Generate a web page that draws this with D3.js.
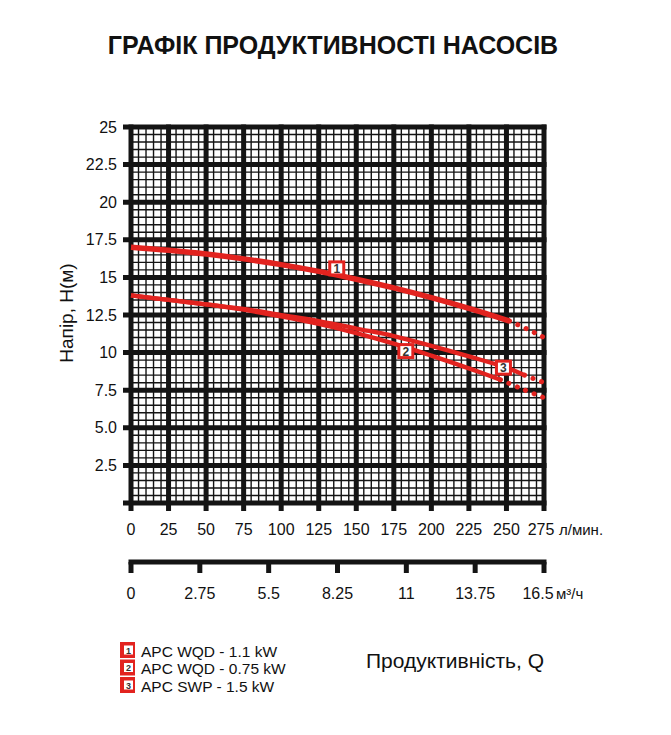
<!doctype html>
<html>
<head>
<meta charset="utf-8"/>
<title>Графік продуктивності насосів</title>
<script src="https://d3js.org/d3.v7.min.js"></script>
<style>
body { margin:0; background:#fff; }
text { font-family: "Liberation Sans", Arial, sans-serif; fill:#111; }
</style>
</head>
<body>
<script type="text/javascript">
// --- data ---
var flowTicks = [0,25,50,75,100,125,150,175,200,225,250,275];          // л/мин
var headTicks = [2.5,5,7.5,10,12.5,15,17.5,20,22.5,25];                // м
var headLabels = ["2.5","5.0","7.5","10","12.5","15","17.5","20","22.5","25"];
var m3hTicks = [0,2.75,5.5,8.25,11,13.75,16.5];                        // м³/ч
var m3hLabels = ["0","2.75","5.5","8.25","11","13.75","16.5"];

// curve 1: APC WQD - 1.1 kW
var c1Q = [0,25,50,75,100,125,150,175,200,225,252];
var c1H = [17.0,16.8,16.55,16.23,15.85,15.4,14.88,14.3,13.65,12.94,12.1];
var c1TailQ = [252,263,275];
var c1TailH = [12.1,11.6,11.0];
// curve 2: APC WQD - 0.75 kW
var c2Q = [0,25,50,75,100,125,150,175,200,225,246];
var c2H = [13.8,13.5,13.2,12.85,12.4,11.9,11.3,10.6,9.8,8.95,8.2];
var c2TailQ = [246,260,275];
var c2TailH = [8.2,7.6,7.0];
// curve 3: APC SWP - 1.5 kW
var c3Q = [0,25,50,75,100,125,150,175,200,225,250,262];
var c3H = [13.8,13.5,13.2,12.9,12.5,12.1,11.6,11.1,10.45,9.75,9.0,8.5];
var c3TailQ = [262,275];
var c3TailH = [8.5,8.0];

var markerQ = [137,183,248];
var markerH = [15.6,10.1,9.0];
var legendNames = ["APC WQD - 1.1 kW","APC WQD - 0.75 kW","APC SWP - 1.5 kW"];

var red = "#e2231f";
var ink = "#141414";

var svg = d3.select("body").append("svg")
  .attr("width", 671)
  .attr("height", 735);

var x = d3.scaleLinear().domain([0,275]).range([131,544]);
var y = d3.scaleLinear().domain([0,25]).range([503,127]);
var x2 = d3.scaleLinear().domain([0,16.5]).range([131,544]);

// title
svg.append("text")
  .attr("x", 333).attr("y", 54)
  .attr("text-anchor","middle")
  .style("font-size","25px").style("font-weight","bold")
  .text("ГРАФІК ПРОДУКТИВНОСТІ НАСОСІВ");

// fine grid
var fineX = d3.range(0,275.1,5);
var fineY = d3.range(0,25.01,0.5);
svg.append("g").selectAll("line").data(fineX).enter().append("line")
  .attr("x1", function(d){return x(d)}).attr("x2", function(d){return x(d)})
  .attr("y1", y(25)).attr("y2", y(0))
  .attr("stroke", ink).attr("stroke-width", 1.4);
svg.append("g").selectAll("line").data(fineY).enter().append("line")
  .attr("y1", function(d){return y(d)}).attr("y2", function(d){return y(d)})
  .attr("x1", x(0)).attr("x2", x(275))
  .attr("stroke", ink).attr("stroke-width", 1.4);

// heavy grid (with tick stubs)
svg.append("g").selectAll("line").data(flowTicks).enter().append("line")
  .attr("x1", function(d){return x(d)}).attr("x2", function(d){return x(d)})
  .attr("y1", y(25)-2.5).attr("y2", y(0)+8)
  .attr("stroke", ink).attr("stroke-width", 5);
svg.append("g").selectAll("line").data([0].concat(headTicks)).enter().append("line")
  .attr("y1", function(d){return y(d)}).attr("y2", function(d){return y(d)})
  .attr("x1", x(0)-8).attr("x2", x(275)+2.5)
  .attr("stroke", ink).attr("stroke-width", 5);

// y labels
svg.append("g").selectAll("text").data(headTicks).enter().append("text")
  .attr("x", 117).attr("y", function(d){return y(d)+5.5})
  .attr("text-anchor","end")
  .style("font-size","16px")
  .text(function(d,i){return headLabels[i]});

svg.append("text")
  .attr("transform","translate(73,313) rotate(-90)")
  .attr("text-anchor","middle")
  .style("font-size","19px")
  .text("Напір, H(м)");

// x labels l/min
svg.append("g").selectAll("text").data(flowTicks).enter().append("text")
  .attr("x", function(d){return x(d)}).attr("y", 535)
  .attr("dx", function(d,i){return i==flowTicks.length-1 ? -3 : 0})
  .attr("text-anchor","middle")
  .style("font-size","16px")
  .text(function(d){return d});
svg.append("text").attr("x",559).attr("y",535).style("font-size","15px").text("л/мин.");

// second axis m3/h
svg.append("line")
  .attr("x1", x2(0)-2.5).attr("x2", x2(16.5)+2.5)
  .attr("y1", 562).attr("y2", 562)
  .attr("stroke", ink).attr("stroke-width", 5);
svg.append("g").selectAll("line").data(m3hTicks).enter().append("line")
  .attr("x1", function(d){return x2(d)}).attr("x2", function(d){return x2(d)})
  .attr("y1", 562).attr("y2", 573)
  .attr("stroke", ink).attr("stroke-width", 5);
svg.append("g").selectAll("text").data(m3hTicks).enter().append("text")
  .attr("x", function(d){return x2(d)}).attr("y", 599)
  .attr("dx", function(d,i){return i==m3hTicks.length-1 ? -6 : 0})
  .attr("text-anchor","middle")
  .style("font-size","16px")
  .text(function(d,i){return m3hLabels[i]});
svg.append("text").attr("x",556).attr("y",599).style("font-size","15px").text("м³/ч");

// curves
var line = d3.line()
  .x(function(d){return x(d[0])})
  .y(function(d){return y(d[1])})
  .curve(d3.curveCatmullRom);

function pts(q,h){ return q.map(function(v,i){return [v,h[i]]}); }

var solids = [[c1Q,c1H,5.5],[c2Q,c2H,4.3],[c3Q,c3H,4.3]];
var tails = [[c1TailQ,c1TailH],[c2TailQ,c2TailH],[c3TailQ,c3TailH]];

svg.append("g").selectAll("path").data(tails).enter().append("path")
  .attr("d", function(d){return line(pts(d[0],d[1]))})
  .attr("fill","none").attr("stroke", red)
  .attr("stroke-width", 5).attr("stroke-linecap","round")
  .attr("stroke-dasharray","0.1 9");

svg.append("g").selectAll("path").data(solids).enter().append("path")
  .attr("d", function(d){return line(pts(d[0],d[1]))})
  .attr("fill","none").attr("stroke", red)
  .attr("stroke-width", function(d){return d[2]});

// markers on curves
var mk = svg.append("g").selectAll("g").data(markerQ).enter().append("g")
  .attr("transform", function(d,i){return "translate("+x(d)+","+y(markerH[i])+")"});
mk.append("rect").attr("x",-8.5).attr("y",-8).attr("width",17).attr("height",16).attr("fill",red);
mk.append("rect").attr("x",-5.5).attr("y",-5).attr("width",11).attr("height",10).attr("fill","#fff");
mk.append("text").attr("text-anchor","middle").attr("y",4.5)
  .style("font-size","12px").style("font-weight","bold").style("fill","#333")
  .text(function(d,i){return i+1});

// legend
var lg = svg.append("g").selectAll("g").data(legendNames).enter().append("g")
  .attr("transform", function(d,i){return "translate(120,"+(642+i*17.5)+")"});
lg.append("rect").attr("width",15).attr("height",16).attr("fill",red);
lg.append("rect").attr("x",4).attr("y",3.5).attr("width",9).attr("height",9).attr("fill","#fff");
lg.append("text").attr("x",8.5).attr("y",11.5).attr("text-anchor","middle")
  .style("font-size","9px").style("font-weight","bold").style("fill","#333")
  .text(function(d,i){return i+1});
lg.append("text").attr("x",21).attr("y",14.5)
  .style("font-size","15.5px")
  .text(function(d){return d});

svg.append("text").attr("x",366).attr("y",668)
  .style("font-size","21px")
  .text("Продуктивність, Q");
</script>
</body>
</html>
